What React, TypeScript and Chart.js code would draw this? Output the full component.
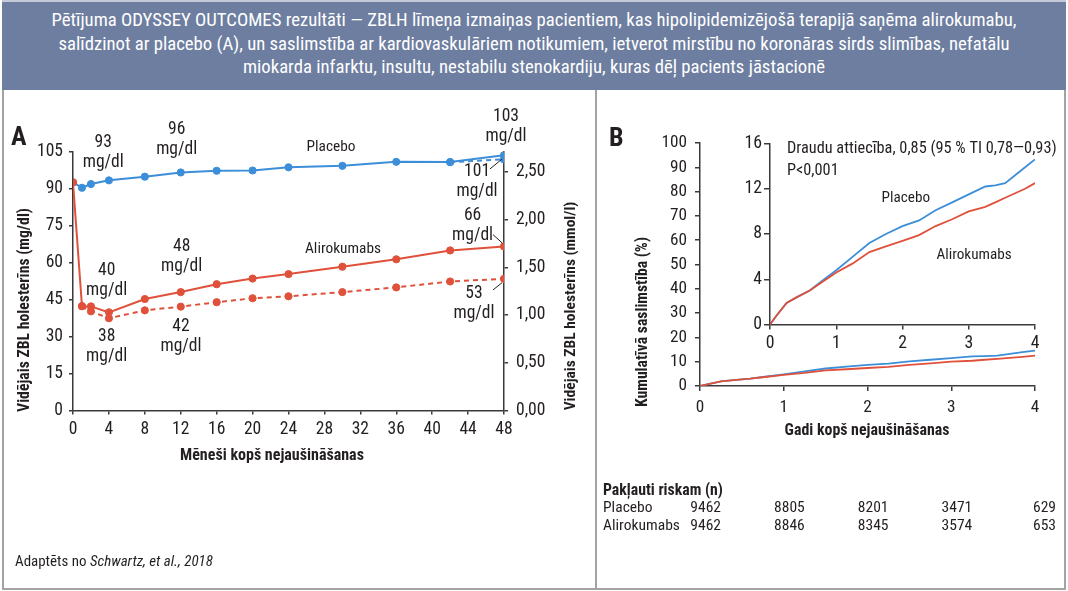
import React, { useEffect, useMemo, useRef } from "react";
import { Chart, registerables } from "chart.js";
Chart.register(...registerables);

const FONT = "'Liberation Sans Narrow', 'Arial Narrow', 'Roboto Condensed', 'DejaVu Sans Condensed', sans-serif";
const BLUE = "#3d8ed8";
const RED = "#e0513b";
const INK = "#231f20";
const AXIS = "#3a3a3a";
const MG_PER_MMOL = 38.67;

// ---- Panel A: LDL cholesterol (mg/dl) by month ----
const months = [0, 1, 2, 4, 8, 12, 16, 20, 24, 30, 36, 42, 48];
const placeboLdl = [92.5, 90.3, 91.8, 93.3, 94.8, 96.5, 97.2, 97.3, 98.6, 99.2, 100.8, 100.7, 103.5];
const placeboLdlDashed = [null, null, null, null, null, null, null, null, null, null, null, 100.7, 101.8];
const alirocumabLdl = [92.5, 42.3, 42.2, 39.8, 45.2, 48, 51.2, 53.5, 55.3, 58.3, 61.3, 64.9, 66.5];
const alirocumabLdlDashed = [null, 42.3, 40.2, 37.4, 40.6, 42.1, 43.9, 45.5, 46.3, 48, 49.9, 52.3, 53.4];

// ---- Panel B: cumulative incidence (%) by year ----
const years = [0, 0.1, 0.25, 0.4, 0.6, 0.75, 1, 1.25, 1.5, 1.75, 2, 2.25, 2.5, 2.75, 3, 3.25, 3.4, 3.55, 3.7, 3.85, 4];
const placeboIncidence = [0, 0.8, 1.9, 2.4, 3.0, 3.7, 4.8, 6.0, 7.2, 8.0, 8.7, 9.2, 10.1, 10.8, 11.5, 12.2, 12.3, 12.5, 13.2, 13.9, 14.6];
const alirocumabIncidence = [0, 0.8, 1.9, 2.4, 3.0, 3.6, 4.6, 5.4, 6.4, 6.9, 7.4, 7.9, 8.7, 9.3, 10.0, 10.4, 10.8, 11.2, 11.6, 12.0, 12.5];
const riskYears = [0, 1, 2, 3, 4];
const riskPlacebo = [9462, 8805, 8201, 3471, 629];
const riskAlirocumab = [9462, 8846, 8345, 3574, 653];

const HEADER_LINES = [
  "Pētījuma ODYSSEY OUTCOMES rezultāti — ZBLH līmeņa izmaiņas pacientiem, kas hipolipidemizējošā terapijā saņēma alirokumabu,",
  "salīdzinot ar placebo (A), un saslimstība ar kardiovaskulāriem notikumiem, ietverot mirstību no koronāras sirds slimības, nefatālu",
  "miokarda infarktu, insultu, nestabilu stenokardiju, kuras dēļ pacients jāstacionē",
];

const pts = (xs: number[], ys: (number | null)[]) =>
  xs.map((x, i) => ({ x, y: ys[i] })).filter((p) => p.y !== null);

// text annotations (anchor in data units)
const annA = [
  { m: 3.37, v: 108.6, lines: ["93", "mg/dl"] },
  { m: 11.55, v: 113.9, lines: ["96", "mg/dl"] },
  { m: 3.75, v: 56.7, lines: ["40", "mg/dl"] },
  { m: 12.1, v: 66.4, lines: ["48", "mg/dl"] },
  { m: 3.75, v: 29.9, lines: ["38", "mg/dl"] },
  { m: 12.03, v: 33.9, lines: ["42", "mg/dl"] },
  { m: 48.22, v: 119.2, lines: ["103", "mg/dl"] },
  { m: 45.0, v: 97.0, lines: ["101", "mg/dl"] },
  { m: 44.5, v: 79.0, lines: ["66", "mg/dl"] },
  { m: 44.66, v: 47.3, lines: ["53", "mg/dl"] },
];
const seriesNamesA = [
  { m: 28.73, v: 106.6, text: "Placebo" },
  { m: 30.07, v: 65.6, text: "Alirokumabs" },
];
const leadersA = [
  [46.43, 97.9, 47.77, 101.9],
  [46.78, 71.3, 47.83, 67.8],
  [46.78, 48.9, 47.78, 51.8],
];

let mctx: CanvasRenderingContext2D | null = null;
function fitSize(text: string, target: number, weight = "normal", style = "normal") {
  if (!mctx) mctx = document.createElement("canvas").getContext("2d");
  mctx!.font = `${style} ${weight} 100px ${FONT}`;
  return (100 * target) / mctx!.measureText(text).width;
}

function axisStyle(tickLength: number, padding: number, size: number) {
  return {
    border: { display: true, color: AXIS, width: 1.5 },
    grid: { display: true, drawOnChartArea: false, drawTicks: true, tickLength, color: AXIS, lineWidth: 1.5 },
    ticks: { color: INK, font: { family: FONT, size }, padding, includeBounds: false },
  };
}

function rotText(ctx: CanvasRenderingContext2D, t: string, x: number, y: number) {
  ctx.save();
  ctx.translate(x, y);
  ctx.rotate(-Math.PI / 2);
  ctx.fillText(t, 0, 0);
  ctx.restore();
}

function fittedText(ctx: CanvasRenderingContext2D, t: string, x: number, y: number, target: number, weight = "normal", rotate = false) {
  ctx.font = `${weight} ${fitSize(t, target, weight)}px ${FONT}`;
  if (rotate) rotText(ctx, t, x, y);
  else ctx.fillText(t, x, y);
}

function makeA(canvas: HTMLCanvasElement) {
  const tickSize = fitSize("105", 26);
  const a = axisStyle(4, 6, tickSize);
  return new Chart(canvas, {
    type: "line",
    data: {
      datasets: [
        { data: pts(months, alirocumabLdl), borderColor: RED, backgroundColor: RED, borderWidth: 2, pointRadius: 3.6, pointBorderWidth: 1 },
        { data: pts(months, alirocumabLdlDashed), borderColor: RED, backgroundColor: RED, borderWidth: 2, borderDash: [5, 4], pointRadius: 3.6, pointBorderWidth: 1 },
        { data: pts(months, placeboLdl), borderColor: BLUE, backgroundColor: BLUE, borderWidth: 2, pointRadius: 3.6, pointBorderWidth: 1 },
        { data: pts(months, placeboLdlDashed), borderColor: BLUE, backgroundColor: BLUE, borderWidth: 2, borderDash: [5, 4], pointRadius: 3.6, pointBorderWidth: 1 },
      ],
    },
    options: {
      responsive: false,
      animation: false,
      events: [],
      layout: { padding: { top: 61.5, left: 0, right: 0, bottom: 0 } },
      plugins: { legend: { display: false }, tooltip: { enabled: false } },
      scales: {
        x: { type: "linear", min: 0, max: 48, ...a, ticks: { ...a.ticks, stepSize: 4, padding: 5 }, afterFit: (s: any) => { s.height = 179.5; } },
        y: { type: "linear", position: "left", min: 0, max: 105, ...a, ticks: { ...a.ticks, stepSize: 15 }, afterFit: (s: any) => { s.width = 73; } },
        y2: {
          type: "linear", position: "right", min: 0, max: 105 / MG_PER_MMOL, ...a,
          ticks: { ...a.ticks, stepSize: 0.5, padding: 8, callback: (v: any) => Number(v).toFixed(2).replace(".", ",") },
          afterFit: (s: any) => { s.width = 93; },
        },
      },
    } as any,
    plugins: [
      {
        id: "annA",
        afterDraw(chart: any) {
          const ctx = chart.ctx as CanvasRenderingContext2D;
          const xs = chart.scales.x, ys = chart.scales.y;
          ctx.save();
          ctx.fillStyle = INK;
          ctx.textAlign = "center";
          ctx.textBaseline = "middle";
          ctx.font = `${tickSize}px ${FONT}`;
          for (const an of annA) {
            const px = xs.getPixelForValue(an.m), py = ys.getPixelForValue(an.v);
            an.lines.forEach((t, i) => ctx.fillText(t, px, py + i * 20));
          }
          ctx.font = `${fitSize("Placebo", 49)}px ${FONT}`;
          for (const s of seriesNamesA) ctx.fillText(s.text, xs.getPixelForValue(s.m), ys.getPixelForValue(s.v));
          ctx.strokeStyle = INK;
          ctx.lineWidth = 1;
          for (const l of leadersA) {
            ctx.beginPath();
            ctx.moveTo(xs.getPixelForValue(l[0]), ys.getPixelForValue(l[1]));
            ctx.lineTo(xs.getPixelForValue(l[2]), ys.getPixelForValue(l[3]));
            ctx.stroke();
          }
          fittedText(ctx, "Mēneši kopš nejaušināšanas", 272, 366, 184, "bold");
          fittedText(ctx, "Vidējais ZBL holesterīns (mg/dl)", 25, 220, 204, "bold", true);
          fittedText(ctx, "Vidējais ZBL holesterīns (mmol/l)", 571, 216, 209, "bold", true);
          ctx.restore();
        },
      },
    ],
  });
}

function makeB(canvas: HTMLCanvasElement) {
  const a = axisStyle(5, 8, fitSize("100", 25.5));
  return new Chart(canvas, {
    type: "line",
    data: {
      datasets: [
        { data: pts(years, alirocumabIncidence), borderColor: RED, borderWidth: 1.8, pointRadius: 0 },
        { data: pts(years, placeboIncidence), borderColor: BLUE, borderWidth: 1.8, pointRadius: 0 },
      ],
    },
    options: {
      responsive: false,
      animation: false,
      events: [],
      layout: { padding: { top: 53, left: 0, right: 31, bottom: 0 } },
      plugins: { legend: { display: false }, tooltip: { enabled: false } },
      scales: {
        x: { type: "linear", min: 0, max: 4, ...a, ticks: { ...a.ticks, stepSize: 1, padding: 6 }, afterFit: (s: any) => { s.height = 204; } },
        y: { type: "linear", min: 0, max: 100, ...a, ticks: { ...a.ticks, stepSize: 10 }, afterFit: (s: any) => { s.width = 103; } },
      },
    } as any,
    plugins: [
      {
        id: "annB",
        afterDraw(chart: any) {
          const ctx = chart.ctx as CanvasRenderingContext2D;
          const xs = chart.scales.x;
          ctx.save();
          ctx.fillStyle = INK;
          ctx.textBaseline = "middle";
          ctx.textAlign = "center";
          fittedText(ctx, "Gadi kopš nejaušināšanas", 270, 341, 165, "bold");
          fittedText(ctx, "Kumulatīvā saslimstība (%)", 46, 232, 170, "bold", true);
          ctx.textAlign = "left";
          fittedText(ctx, "Pakļauti riskam (n)", 6, 401, 120, "bold");
          ctx.font = `${fitSize("Alirokumabs", 77)}px ${FONT}`;
          ctx.fillText("Placebo", 6, 418.5);
          ctx.fillText("Alirokumabs", 6, 435.7);
          ctx.textAlign = "right";
          riskYears.forEach((yr, i) => {
            const px = xs.getPixelForValue(yr) + 21;
            ctx.fillText(String(riskPlacebo[i]), px, 418.5);
            ctx.fillText(String(riskAlirocumab[i]), px, 435.7);
          });
          ctx.restore();
        },
      },
    ],
  });
}

function makeInset(canvas: HTMLCanvasElement) {
  const a = axisStyle(6, 2, fitSize("16", 17.5));
  return new Chart(canvas, {
    type: "line",
    data: {
      datasets: [
        { data: pts(years, alirocumabIncidence), borderColor: RED, borderWidth: 1.8, pointRadius: 0 },
        { data: pts(years, placeboIncidence), borderColor: BLUE, borderWidth: 1.8, pointRadius: 0 },
      ],
    },
    options: {
      responsive: false,
      animation: false,
      events: [],
      layout: { padding: { top: 53.5, left: 0, right: 31, bottom: 0 } },
      plugins: { legend: { display: false }, tooltip: { enabled: false } },
      scales: {
        x: { type: "linear", min: 0, max: 4, ...a, grid: { ...a.grid, tickLength: 5 }, ticks: { ...a.ticks, stepSize: 1, padding: 3 }, afterFit: (s: any) => { s.height = 35.5; } },
        y: { type: "linear", min: 0, max: 16, ...a, ticks: { ...a.ticks, stepSize: 4 }, afterFit: (s: any) => { s.width = 30; } },
      },
    } as any,
    plugins: [
      {
        id: "annInset",
        afterDraw(chart: any) {
          const ctx = chart.ctx as CanvasRenderingContext2D;
          const xs = chart.scales.x, ys = chart.scales.y;
          ctx.save();
          ctx.fillStyle = INK;
          ctx.textBaseline = "middle";
          ctx.textAlign = "left";
          const hr = "Draudu attiecība, 0,85 (95 % TI 0,78—0,93)";
          ctx.font = `${fitSize(hr, 270)}px ${FONT}`;
          ctx.fillText(hr, xs.getPixelForValue(0.257), ys.getPixelForValue(15.56));
          ctx.fillText("P<0,001", xs.getPixelForValue(0.257), ys.getPixelForValue(13.62));
          ctx.textAlign = "center";
          ctx.font = `${fitSize("Placebo", 48.5)}px ${FONT}`;
          ctx.fillText("Placebo", xs.getPixelForValue(2.05), ys.getPixelForValue(11.16));
          ctx.fillText("Alirokumabs", xs.getPixelForValue(3.08), ys.getPixelForValue(6.13));
          ctx.restore();
        },
      },
    ],
  });
}

export default function App() {
  const refA = useRef<HTMLCanvasElement>(null);
  const refB = useRef<HTMLCanvasElement>(null);
  const refI = useRef<HTMLCanvasElement>(null);
  useEffect(() => {
    const charts = [makeA(refA.current!), makeB(refB.current!), makeInset(refI.current!)];
    return () => charts.forEach((c) => c.destroy());
  }, []);

  const sizes = useMemo(() => {
    const header = fitSize(HEADER_LINES[0], 966);
    if (!mctx) mctx = document.createElement("canvas").getContext("2d");
    mctx!.font = `normal normal 100px ${FONT}`;
    const w1 = mctx!.measureText("Adaptēts no ").width;
    mctx!.font = `italic normal 100px ${FONT}`;
    const w2 = mctx!.measureText("Schwartz, et al., 2018").width;
    const foot = (100 * 198) / (w1 + w2);
    return { header, foot };
  }, []);

  const abs = (l: number, t: number, w: number, h: number): React.CSSProperties => ({
    position: "absolute", left: l, top: t, width: w, height: h,
  });

  return (
    <div style={{ position: "absolute", left: 0, top: 0, width: 1068, height: 591, background: "#fff", fontFamily: FONT, color: INK, overflow: "hidden" }}>
      <div
        style={{
          ...abs(2, 0, 1064, 90), boxSizing: "border-box", background: "#6d7ea0", borderTop: "2px solid #c4cad8",
          color: "#fff", textAlign: "center", fontSize: sizes.header, lineHeight: "23.5px", paddingTop: 7, whiteSpace: "nowrap",
        }}
      >
        {HEADER_LINES.map((l, i) => (
          <div key={i}>{l}</div>
        ))}
      </div>
      <div style={{ ...abs(2, 90, 1064, 500), boxSizing: "border-box", borderLeft: "2px solid #a3a3a3", borderRight: "2px solid #a3a3a3", borderBottom: "2px solid #a3a3a3" }} />
      <div style={{ ...abs(595, 90, 2, 499), background: "#a3a3a3" }} />
      <canvas ref={refA} width={597} height={500} style={{ ...abs(0, 90, 597, 500), display: "block" }} />
      <canvas ref={refB} width={469} height={500} style={{ ...abs(597, 90, 469, 500), display: "block" }} />
      <canvas ref={refI} width={326} height={270} style={{ ...abs(740, 90, 326, 270), display: "block" }} />
      <div style={{ position: "absolute", left: 11, top: 121, fontSize: 26, fontWeight: "bold", lineHeight: "30px" }}>A</div>
      <div style={{ position: "absolute", left: 609, top: 122, fontSize: 26, fontWeight: "bold", lineHeight: "30px" }}>B</div>
      <div style={{ position: "absolute", left: 15, top: 552, fontSize: sizes.foot, lineHeight: "18px", whiteSpace: "nowrap" }}>
        Adaptēts no <i>Schwartz, et al., 2018</i>
      </div>
    </div>
  );
}
